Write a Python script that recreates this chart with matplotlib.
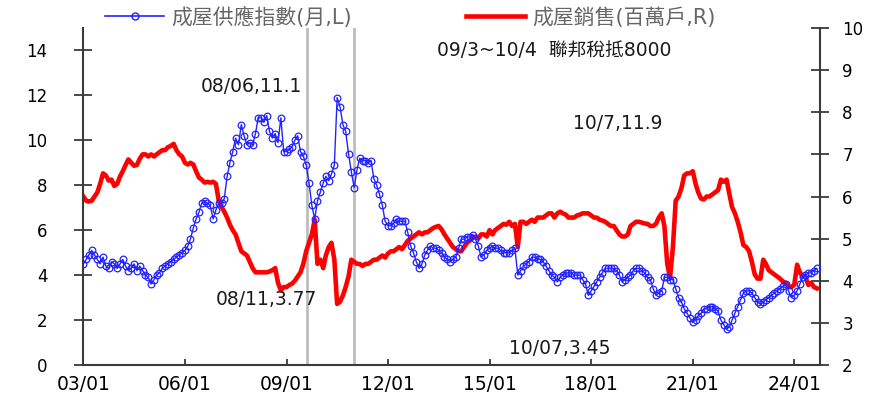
import matplotlib
matplotlib.use("Agg")
import matplotlib.pyplot as plt
import pandas as pd
from matplotlib.lines import Line2D

plt.rcParams["font.family"] = ["DejaVu Sans", "Noto Sans CJK TC"]

# monthly, 2003/01 .. 2024/09
months = pd.date_range("2003-01-01", periods=261, freq="MS")

# existing-home supply, months (left axis)
supply = [
    4.5, 4.7, 4.9, 5.1, 4.9, 4.7, 4.5, 4.8, 4.4, 4.3, 4.6, 4.5,  # 2003
    4.3, 4.5, 4.7, 4.4, 4.2, 4.3, 4.5, 4.2, 4.4, 4.2, 4.0, 3.9,  # 2004
    3.6, 3.8, 4.0, 4.1, 4.3, 4.4, 4.5, 4.6, 4.7, 4.8, 4.9, 5.0,  # 2005
    5.1, 5.3, 5.6, 6.1, 6.5, 6.8, 7.2, 7.3, 7.2, 7.1, 6.5, 6.9,  # 2006
    7.2, 7.2, 7.4, 8.4, 9.0, 9.5, 10.1, 9.8, 10.7, 10.2, 9.8, 9.9,  # 2007
    9.8, 10.3, 11.0, 11.0, 10.8, 11.1, 10.4, 10.1, 10.3, 9.9, 11.0, 9.5,  # 2008
    9.5, 9.6, 9.7, 10.0, 10.2, 9.5, 9.3, 8.9, 8.1, 7.1, 6.5, 7.3,  # 2009
    7.7, 8.1, 8.4, 8.2, 8.5, 8.9, 11.9, 11.5, 10.7, 10.4, 9.4, 8.6,  # 2010
    7.9, 8.7, 9.2, 9.1, 9.1, 9.0, 9.1, 8.3, 8.0, 7.6, 7.1, 6.4,  # 2011
    6.2, 6.2, 6.3, 6.5, 6.4, 6.4, 6.4, 5.9, 5.3, 5.0, 4.6, 4.3,  # 2012
    4.5, 4.9, 5.1, 5.3, 5.2, 5.2, 5.1, 5.0, 4.8, 4.7, 4.6, 4.7,  # 2013
    4.8, 5.2, 5.6, 5.6, 5.7, 5.7, 5.8, 5.6, 5.3, 4.8, 4.9, 5.1,  # 2014
    5.2, 5.3, 5.2, 5.2, 5.1, 5.0, 5.0, 5.0, 5.1, 5.2, 4.0, 4.2,  # 2015
    4.4, 4.5, 4.6, 4.8, 4.8, 4.7, 4.7, 4.6, 4.4, 4.2, 4.0, 3.9,  # 2016
    3.7, 3.9, 4.0, 4.1, 4.1, 4.1, 4.0, 4.0, 4.0, 3.8, 3.6, 3.1,  # 2017
    3.3, 3.5, 3.7, 3.9, 4.1, 4.3, 4.3, 4.3, 4.3, 4.2, 4.0, 3.7,  # 2018
    3.8, 3.9, 4.0, 4.2, 4.3, 4.3, 4.2, 4.1, 3.9, 3.8, 3.4, 3.1,  # 2019
    3.2, 3.3, 3.9, 3.9, 3.8, 3.8, 3.4, 3.0, 2.8, 2.5, 2.3, 2.1,  # 2020
    1.9, 2.0, 2.2, 2.3, 2.5, 2.5, 2.6, 2.6, 2.5, 2.4, 2.0, 1.8,  # 2021
    1.6, 1.7, 2.0, 2.3, 2.6, 2.9, 3.2, 3.3, 3.3, 3.2, 3.0, 2.8,  # 2022
    2.7, 2.8, 2.9, 3.0, 3.1, 3.2, 3.3, 3.4, 3.5, 3.6, 3.3, 3.0,  # 2023
    3.1, 3.3, 3.6, 3.9, 4.0, 4.1, 4.1, 4.2, 4.3,  # 2024
]

# existing-home sales, million units (right axis)
sales = [
    6.0, 5.9, 5.88, 5.9, 6.0, 6.1, 6.3, 6.55, 6.5, 6.38, 6.4, 6.25,  # 2003
    6.3, 6.48, 6.6, 6.75, 6.88, 6.8, 6.73, 6.75, 6.9, 7.0, 7.0, 6.95,  # 2004
    7.0, 6.95, 7.0, 7.05, 7.1, 7.1, 7.17, 7.2, 7.25, 7.1, 7.0, 6.95,  # 2005
    6.8, 6.76, 6.8, 6.76, 6.6, 6.45, 6.4, 6.33, 6.35, 6.33, 6.35, 6.3,  # 2006
    5.9, 5.75, 5.64, 5.5, 5.33, 5.2, 5.1, 4.9, 4.7, 4.65, 4.6, 4.45,  # 2007
    4.3, 4.2, 4.2, 4.2, 4.2, 4.2, 4.22, 4.25, 4.3, 3.95, 3.77, 3.85,  # 2008
    3.85, 3.9, 3.93, 4.0, 4.1, 4.2, 4.4, 4.7, 4.9, 5.1, 5.45, 4.4,  # 2009
    4.5, 4.3, 4.6, 4.8, 4.9, 4.5, 3.45, 3.5, 3.65, 3.85, 4.1, 4.5,  # 2010
    4.45, 4.4, 4.4, 4.35, 4.4, 4.4, 4.45, 4.5, 4.5, 4.55, 4.6, 4.55,  # 2011
    4.65, 4.7, 4.7, 4.75, 4.8, 4.75, 4.85, 4.95, 5.0, 5.05, 5.1, 5.15,  # 2012
    5.1, 5.15, 5.15, 5.2, 5.25, 5.28, 5.3, 5.22, 5.1, 5.0, 4.9, 4.8,  # 2013
    4.75, 4.7, 4.7, 4.8, 4.9, 4.95, 5.02, 5.05, 5.0, 5.1, 5.1, 5.05,  # 2014
    5.2, 5.1, 5.2, 5.25, 5.3, 5.35, 5.33, 5.4, 5.3, 5.35, 4.8, 5.4,  # 2015
    5.4, 5.35, 5.4, 5.45, 5.4, 5.5, 5.5, 5.5, 5.55, 5.6, 5.6, 5.5,  # 2016
    5.6, 5.64, 5.6, 5.57, 5.5, 5.5, 5.5, 5.55, 5.57, 5.6, 5.6, 5.6,  # 2017
    5.55, 5.5, 5.5, 5.45, 5.43, 5.4, 5.35, 5.3, 5.3, 5.2, 5.1, 5.05,  # 2018
    5.05, 5.1, 5.3, 5.35, 5.4, 5.4, 5.38, 5.36, 5.35, 5.3, 5.3, 5.35,  # 2019
    5.5, 5.6, 5.3, 4.4, 4.07, 4.8, 5.9, 6.0, 6.2, 6.5, 6.55, 6.55,  # 2020
    6.6, 6.3, 6.1, 5.95, 5.93, 6.0, 6.0, 6.05, 6.1, 6.15, 6.4, 6.35,  # 2021
    6.4, 6.05, 5.75, 5.6, 5.4, 5.15, 4.85, 4.8, 4.7, 4.45, 4.15, 4.05,  # 2022
    4.05, 4.5, 4.4, 4.25, 4.2, 4.15, 4.1, 4.05, 3.98, 3.95, 3.86, 3.85,  # 2023
    3.9, 4.38, 4.2, 4.1, 4.1, 3.9, 3.95, 3.85, 3.82,  # 2024
]

tick_dates = pd.to_datetime([f"{y}-01-01" for y in range(2003, 2025, 3)])
tick_labels = [f"{y % 100:02d}/01" for y in range(2003, 2025, 3)]
left_ticks = list(range(0, 15, 2))
right_ticks = list(range(2, 11))

# first-time buyer tax credit window
credit_start = pd.Timestamp("2009-08-15")
credit_end = pd.Timestamp("2011-01-01")

supply_label = "成屋供應指數(月,L)"
sales_label = "成屋銷售(百萬戶,R)"

notes = [
    ("08/06,11.1", 0.229, 0.825),
    ("09/3~10/4  聯邦稅抵8000", 0.640, 0.932),
    ("10/7,11.9", 0.726, 0.718),
    ("08/11,3.77", 0.249, 0.193),
    ("10/07,3.45", 0.647, 0.050),
]

BLUE = "#2222ff"
RED = "#ff0000"
SPINE = "#3a3a3a"

fig = plt.figure(figsize=(8.73, 3.97), dpi=100)
ax = fig.add_axes([83 / 873, 32 / 397, 737 / 873, 337 / 397])
ax2 = ax.twinx()
ax.set_zorder(ax2.get_zorder() + 1)
ax.patch.set_visible(False)

for d in (credit_start, credit_end):
    ax2.axvline(d, color="#bdbdbd", lw=2.0, zorder=0)

ax2.plot(months, sales, color=RED, lw=3.3, solid_joinstyle="round")
ax.plot(months, supply, color=BLUE, lw=1.0, marker="o", ms=4.8,
        mfc="none", mec=BLUE, mew=0.9)

ax.set_xlim(pd.Timestamp("2002-12-28"), pd.Timestamp("2024-10-05"))
ax.set_ylim(0, 15)
ax2.set_ylim(2, 10)
ax.set_xticks(tick_dates)
ax.set_xticklabels(tick_labels)
ax.set_yticks(left_ticks)
ax2.set_yticks(right_ticks)

for a in (ax, ax2):
    a.spines["top"].set_visible(False)
    for s in a.spines.values():
        s.set_color(SPINE)
        s.set_linewidth(1.5)
ax.spines["right"].set_visible(False)
ax2.spines["left"].set_visible(False)
ax2.spines["bottom"].set_visible(False)

ax.tick_params(axis="y", direction="inout", length=13, width=1.3,
               pad=19, labelsize=12, color=SPINE)
ax.tick_params(axis="x", direction="in", length=4.5, width=1.3,
               pad=7, labelsize=13.5, color=SPINE)
ax2.tick_params(axis="y", direction="inout", length=13, width=1.3,
                pad=9.5, labelsize=12, color=SPINE)

for text, xf, yf in notes:
    ax.text(xf, yf, text, transform=ax.transAxes, ha="center", va="center",
            fontsize=13.5, color="#1a1a1a")

handles = [
    Line2D([], [], color=BLUE, lw=1.2, marker="o", ms=5, mfc="none", mew=1.0),
    Line2D([], [], color=RED, lw=3.3),
]
fig.legend(handles, [supply_label, sales_label], loc="center left",
           bbox_to_anchor=(95 / 873, 1 - 17 / 397), ncol=2, frameon=False,
           borderpad=0, handlelength=2.8, handletextpad=0.35,
           columnspacing=5.5, numpoints=1, fontsize=15, labelcolor="#666666")

fig.savefig("out.png", dpi=100)
